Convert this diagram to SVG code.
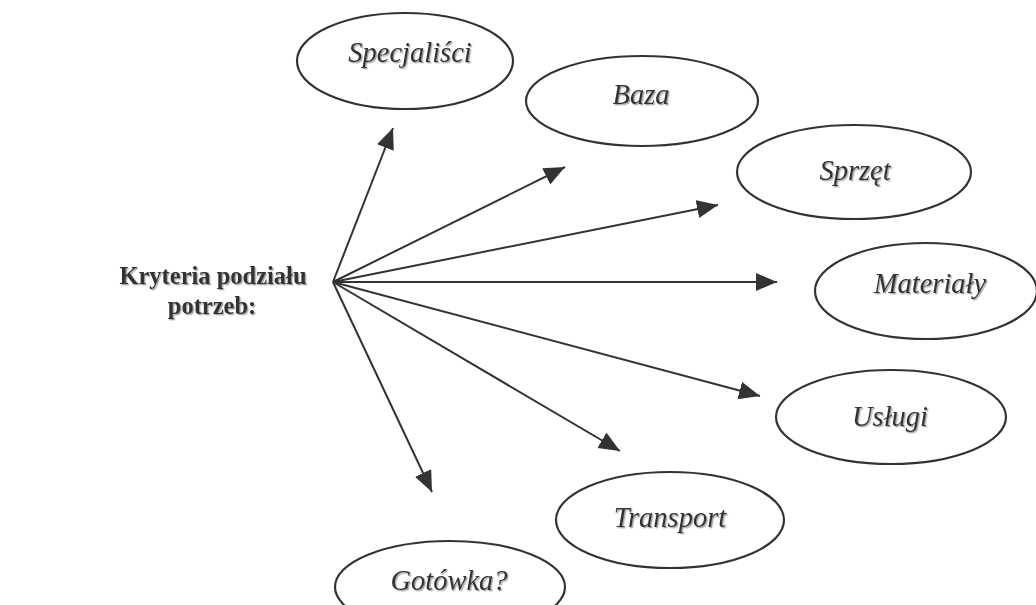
<svg xmlns="http://www.w3.org/2000/svg" width="1036" height="605" viewBox="0 0 1036 605">
<defs>
<filter id="sh" x="-10%" y="-30%" width="130%" height="160%">
<feDropShadow dx="1.3" dy="1.3" stdDeviation="0.6" flood-color="#9a9a9a" flood-opacity="0.9"/>
</filter>
<marker id="ah" markerUnits="userSpaceOnUse" markerWidth="24" markerHeight="20" refX="21" refY="9" orient="auto">
<path d="M0,0 L21,9 L0,18 Z" fill="#333"/>
</marker>
<style>
.node ellipse{fill:#fff;stroke:#333;stroke-width:2.2}
.lbl{font-family:"Liberation Serif","Times New Roman",serif;font-style:italic;font-size:28.5px;fill:#333;text-anchor:middle;filter:url(#sh)}
.title{font-family:"Liberation Serif","Times New Roman",serif;font-weight:bold;font-size:24.5px;fill:#333;text-anchor:middle;filter:url(#sh)}
.conn line{stroke:#333;stroke-width:2;marker-end:url(#ah)}
</style>
</defs>
<rect width="1036" height="605" fill="#fff"/>
<g id="title">
<text class="title" x="213" y="284">Kryteria podziału</text>
<text class="title" x="212" y="314">potrzeb:</text>
</g>
<g id="connectors" class="conn">
<line x1="333" y1="282" x2="393" y2="128"/>
<line x1="333" y1="282" x2="565" y2="167"/>
<line x1="333" y1="282" x2="718" y2="205"/>
<line x1="333" y1="282" x2="777" y2="282"/>
<line x1="333" y1="282" x2="760" y2="396"/>
<line x1="333" y1="282" x2="620" y2="451"/>
<line x1="333" y1="282" x2="432" y2="492"/>
</g>
<g id="n-specjalisci" class="node">
<ellipse cx="405" cy="61" rx="108" ry="48"/>
<text class="lbl" x="410" y="62">Specjaliści</text>
</g>
<g id="n-baza" class="node">
<ellipse cx="642" cy="101" rx="116" ry="45"/>
<text class="lbl" x="641" y="104">Baza</text>
</g>
<g id="n-sprzet" class="node">
<ellipse cx="854" cy="172" rx="117" ry="47"/>
<text class="lbl" x="855" y="180">Sprzęt</text>
</g>
<g id="n-materialy" class="node">
<ellipse cx="926" cy="291" rx="111" ry="48"/>
<text class="lbl" x="930" y="293">Materiały</text>
</g>
<g id="n-uslugi" class="node">
<ellipse cx="891" cy="417" rx="115" ry="47"/>
<text class="lbl" x="890" y="426">Usługi</text>
</g>
<g id="n-transport" class="node">
<ellipse cx="670" cy="520" rx="114" ry="48"/>
<text class="lbl" x="670" y="527">Transport</text>
</g>
<g id="n-gotowka" class="node">
<ellipse cx="450" cy="587" rx="115" ry="46"/>
<text class="lbl" x="449" y="590">Gotówka?</text>
</g>
</svg>
